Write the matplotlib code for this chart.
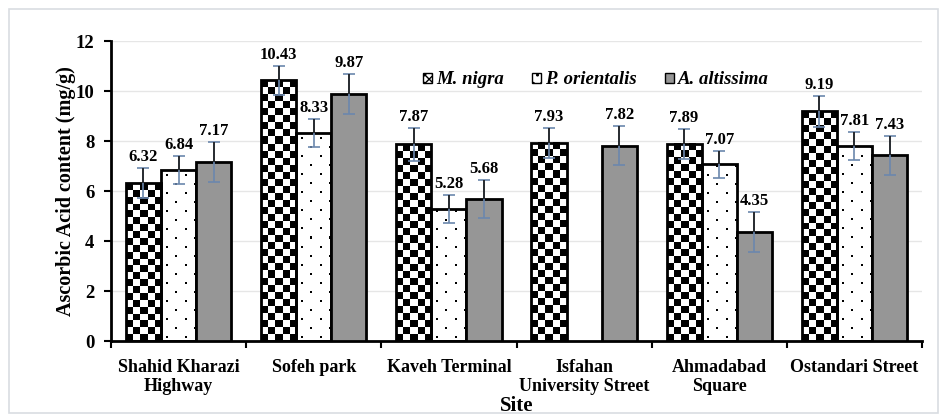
"""Ascorbic acid content by site, three tree species."""
import numpy as np
import matplotlib
matplotlib.use('Agg')
import matplotlib.pyplot as plt
from matplotlib.patches import Patch, Rectangle

sites = ['Shahid Kharazi\nHighway', 'Sofeh park', 'Kaveh Terminal',
         'Isfahan\nUniversity Street', 'Ahmadabad\nSquare', 'Ostandari Street']
species = ['M. nigra', 'P. orientalis', 'A. altissima']
m_nigra = [6.32, 10.43, 7.87, 7.93, 7.89, 9.19]
p_orientalis = [6.84, 8.33, 5.28, np.nan, 7.07, 7.81]
a_altissima = [7.17, 9.87, 5.68, 7.82, 4.35, 7.43]
m_err = [0.60, 0.57, 0.65, 0.60, 0.60, 0.61]
p_err = [0.56, 0.55, 0.56, np.nan, 0.55, 0.55]
a_err = [0.80, 0.80, 0.76, 0.78, 0.80, 0.77]

plt.rcParams['font.family'] = ['Liberation Serif', 'DejaVu Serif']
plt.rcParams['font.weight'] = 'bold'

W, H, DPI = 947, 418, 100
fig = plt.figure(figsize=(W / DPI, H / DPI), dpi=DPI)
fig.patches.append(Rectangle((9 / W, 5 / H), 929 / W, 404 / H, transform=fig.transFigure,
                             fill=False, edgecolor='#d9dde2', lw=1.2))
ax = fig.add_axes([111 / W, 1 - 341 / H, 811 / W, 300 / H])

ymax = 12
px_x = 811 / 6.0   # pixels per category unit
px_y = 300 / ymax  # pixels per value unit
bw = 0.26


def checker(h):
    ncol = 5
    nrow = max(1, int(round(h * px_y / 7.0)))
    r, c = np.indices((nrow, ncol))
    return ((r + c) % 2).astype(float)


def dots(h):
    wpx = int(round(bw * px_x))
    hpx = max(1, int(round(h * px_y)))
    a = np.ones((hpx, wpx))
    for i, y in enumerate(range(hpx - 5, 0, -9)):
        off = 5 if i % 2 == 0 else 14
        for x in range(off, wpx - 1, 18):
            a[y:y + 2, x:x + 2] = 0
    return a


series = [(m_nigra, m_err, 'check'), (p_orientalis, p_err, 'dots'), (a_altissima, a_err, '#969696')]
xs = np.arange(len(sites))
for k, (vals, errs, style) in enumerate(series):
    for i, (v, e) in enumerate(zip(vals, errs)):
        if np.isnan(v):
            continue
        x = xs[i] + (k - 1) * bw
        x0, x1 = x - bw / 2, x + bw / 2
        if style == 'check':
            ax.imshow(checker(v), cmap='gray', extent=(x0, x1, 0, v), origin='lower',
                      interpolation='nearest', aspect='auto', zorder=2)
            fc = 'none'
        elif style == 'dots':
            ax.imshow(dots(v), cmap='gray', vmin=0, vmax=1, extent=(x0, x1, 0, v),
                      interpolation='nearest', aspect='auto', zorder=2)
            fc = 'none'
        else:
            fc = style
        ax.bar(x, v, width=bw, facecolor=fc, edgecolor='black', lw=2, zorder=3)
        ax.errorbar(x, v, yerr=e, fmt='none', ecolor='#6b87ad', capsize=4,
                    elinewidth=1.2, capthick=1.2, zorder=5)
        ax.vlines(x, v, v + e, color='#1a1a1a', lw=1.2, zorder=6)
        ax.annotate(f'{v:.2f}', (x, v + e), xytext=(0, 2), textcoords='offset points',
                    ha='center', va='bottom', fontsize=12, fontweight='bold')

ax.set_xlim(-0.5, len(sites) - 0.5)
ax.set_ylim(0, ymax)
ax.set_yticks(range(0, ymax + 1, 2))
ax.set_xticks(xs)
ax.set_xticklabels(sites, fontsize=13, fontweight='bold', linespacing=1.15)
ax.set_xticks(np.arange(-0.5, len(sites)), minor=True)
ax.tick_params(axis='x', which='major', length=0, pad=13)
ax.tick_params(axis='x', which='minor', length=5, width=1.5, direction='out')
ax.tick_params(axis='y', length=5, width=1.5, labelsize=13.5, pad=7)
for lab in ax.get_yticklabels():
    lab.set_fontweight('bold')
ax.grid(axis='y', color='#e6e6e6', lw=1, zorder=0)
ax.set_axisbelow(True)
for s in ['top', 'right']:
    ax.spines[s].set_visible(False)
for s in ['left', 'bottom']:
    ax.spines[s].set_linewidth(2)
ax.set_ylabel('Ascorbic Acid content (mg/g)', fontsize=14.5, fontweight='bold', labelpad=0)
ax.set_xlabel('Site', fontsize=15, fontweight='bold', labelpad=1)

handles = [Patch(facecolor='white', edgecolor='black', hatch='xxxx'),
           Patch(facecolor='white', edgecolor='black', hatch='..'),
           Patch(facecolor='#969696', edgecolor='black')]
ax.legend(handles, species, loc='center', bbox_to_anchor=(0.598, 0.87), ncol=3,
          frameon=False, handlelength=0.5, handleheight=0.5, handletextpad=0.2,
          columnspacing=1.5, prop={'style': 'italic', 'weight': 'bold', 'size': 13.5})

fig.savefig('out.png', dpi=DPI)
